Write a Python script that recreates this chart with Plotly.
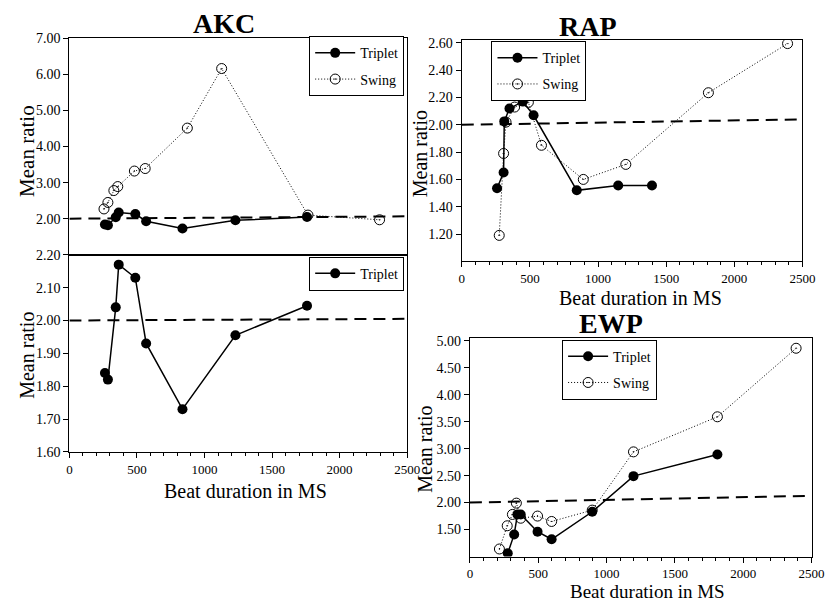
import plotly.graph_objects as go

# ---------------- data ----------------
# AKC
akc_trip_x = [263, 285, 343, 365, 488, 568, 837, 1229, 1759]
akc_trip_y = [1.84, 1.82, 2.04, 2.17, 2.13, 1.93, 1.73, 1.955, 2.045]
akc_swing_x = [256, 285, 329, 358, 481, 561, 873, 1127, 1766, 2296]
akc_swing_y = [2.27, 2.45, 2.78, 2.89, 3.32, 3.39, 4.51, 6.16, 2.10, 1.97]
# RAP
rap_trip_x = [259, 307, 312, 350, 448, 527, 844, 1148, 1396]
rap_trip_y = [1.535, 1.65, 2.025, 2.12, 2.17, 2.07, 1.52, 1.555, 1.555]
rap_swing_x = [275, 307, 325, 388, 489, 585, 892, 1204, 1810, 2391]
rap_swing_y = [1.19, 1.79, 2.02, 2.13, 2.165, 1.85, 1.60, 1.71, 2.235, 2.595]
# EWP
ewp_trip_x = [277, 324, 348, 372, 495, 598, 895, 1197, 1811]
ewp_trip_y = [1.06, 1.41, 1.78, 1.78, 1.46, 1.32, 1.83, 2.49, 2.89]
ewp_swing_x = [216, 273, 311, 340, 372, 495, 598, 895, 1197, 1811, 2387]
ewp_swing_y = [1.14, 1.57, 1.78, 1.99, 1.71, 1.75, 1.65, 1.86, 2.94, 3.59, 4.86]

# reference (ratio = 2) dashed line ends, as they appear in the scan
ref_x = [0, 2500]
akc_top_ref = [2.00, 2.065]
akc_bot_ref = [2.00, 2.005]
rap_ref = [2.00, 2.04]
ewp_ref = [2.00, 2.126]

x_ticks = [0, 500, 1000, 1500, 2000, 2500]
akc_top_yticks = [2, 3, 4, 5, 6, 7]
akc_bot_yticks = [1.6, 1.7, 1.8, 1.9, 2.0, 2.1, 2.2]
rap_yticks = [1.2, 1.4, 1.6, 1.8, 2.0, 2.2, 2.4, 2.6]
ewp_yticks = [1.5, 2.0, 2.5, 3.0, 3.5, 4.0, 4.5, 5.0]

FONT = "'Liberation Serif', 'Times New Roman', 'DejaVu Serif', serif"
W, H = 837, 614

fig = go.Figure()


def trip(x, y, xa, ya, legend, show=True):
    fig.add_trace(go.Scatter(
        x=x, y=y, xaxis=xa, yaxis=ya, mode="lines+markers", name="Triplet",
        line=dict(color="black", width=1.5),
        marker=dict(symbol="circle", size=10, color="black"),
        legend=legend, showlegend=show, legendgroup=legend + "t"))


def swing(x, y, xa, ya, legend):
    fig.add_trace(go.Scatter(
        x=x, y=y, xaxis=xa, yaxis=ya, mode="lines+markers", name="Swing",
        line=dict(color="black", width=1, dash="1px,2px"),
        marker=dict(symbol="circle-open-dot", size=10, color="black",
                    line=dict(width=1, color="black")),
        legend=legend, legendgroup=legend + "s"))


trip(akc_trip_x, akc_trip_y, "x", "y", "legend")
swing(akc_swing_x, akc_swing_y, "x", "y", "legend")
trip(akc_trip_x, akc_trip_y, "x2", "y2", "legend2")
trip(rap_trip_x, rap_trip_y, "x3", "y3", "legend3")
swing(rap_swing_x, rap_swing_y, "x3", "y3", "legend3")
trip(ewp_trip_x, ewp_trip_y, "x4", "y4", "legend4")
swing(ewp_swing_x, ewp_swing_y, "x4", "y4", "legend4")


def px_x(p):
    return p / W


def px_y(p):
    return 1 - p / H


axis_common = dict(showline=True, linecolor="black", linewidth=1.3, mirror=True,
                   showgrid=False, zeroline=False,
                   tickfont=dict(family=FONT, size=14, color="black"),
                   tickcolor="black")

xcommon = dict(axis_common, range=[0, 2500], tickvals=x_ticks, ticks="outside",
               ticklen=5, tickwidth=1,
               tickfont=dict(family=FONT, size=13, color="black"),
               minor=dict(dtick=100, ticks="outside", ticklen=3, tickcolor="black"))

ycommon = dict(axis_common, tickformat=".2f", ticks="outside", ticklen=5, tickwidth=1)

fig.update_layout(
    width=W, height=H, margin=dict(l=0, r=0, t=0, b=0),
    paper_bgcolor="white", plot_bgcolor="white",
    font=dict(family=FONT, color="black"),
    # AKC top
    xaxis=dict(axis_common, domain=[px_x(67.7), px_x(412)], range=[0, 2500],
               showticklabels=False, ticks="", anchor="y", linewidth=0.8),
    yaxis=dict(ycommon, domain=[px_y(254), px_y(32)], range=[1, 7],
               tickvals=akc_top_yticks, anchor="x"),
    # AKC bottom
    xaxis2=dict(xcommon, domain=[px_x(67.7), px_x(412)], anchor="y2"),
    yaxis2=dict(ycommon, domain=[px_y(456), px_y(254)], range=[1.6, 2.2],
                tickvals=akc_bot_yticks, anchor="x2"),
    # RAP
    xaxis3=dict(xcommon, domain=[px_x(467.7), px_x(815)], anchor="y3"),
    yaxis3=dict(ycommon, domain=[px_y(260.7), px_y(34)], range=[1.0, 2.62],
                tickvals=rap_yticks, anchor="x3"),
    # EWP
    xaxis4=dict(xcommon, domain=[px_x(476), px_x(824.3)], anchor="y4"),
    yaxis4=dict(ycommon, domain=[px_y(563.3), px_y(339.3)], range=[1.0, 5.05],
                tickvals=ewp_yticks, anchor="x4"),
)

leg_common = dict(bgcolor="white", bordercolor="black", borderwidth=1,
                  font=dict(family=FONT, size=14, color="black"),
                  tracegroupgap=5, itemwidth=40)
fig.update_layout(
    legend=dict(leg_common, x=px_x(409), y=px_y(30), xanchor="right", yanchor="top"),
    legend2=dict(leg_common, x=px_x(409), y=px_y(256), xanchor="right", yanchor="top"),
    legend3=dict(leg_common, x=px_x(498), y=px_y(35), xanchor="left", yanchor="top"),
    legend4=dict(leg_common, x=px_x(570), y=px_y(341), xanchor="left", yanchor="top"),
)

# dashed reference lines
for xr, yr, yy in [("x", "y", akc_top_ref), ("x2", "y2", akc_bot_ref),
                   ("x3", "y3", rap_ref), ("x4", "y4", ewp_ref)]:
    fig.add_shape(type="line", xref=xr, yref=yr, x0=ref_x[0], x1=ref_x[1],
                  y0=yy[0], y1=yy[1],
                  line=dict(color="black", width=2, dash="12px,7px"), layer="below")


# titles and axis labels
def ann(text, x, y, size, bold=False, angle=0):
    fig.add_annotation(text=f"<b>{text}</b>" if bold else text,
                       x=px_x(x), y=px_y(y), xref="paper", yref="paper",
                       showarrow=False, textangle=angle,
                       font=dict(family=FONT, size=size, color="black"),
                       xanchor="center", yanchor="middle")


ann("AKC", 225, 17, 28, bold=True)
ann("RAP", 596, 20, 28, bold=True)
ann("EWP", 620, 324, 28, bold=True)
ann("Beat duration in MS", 247, 496, 20)
ann("Beat duration in MS", 650, 298, 20)
ann("Beat duration in MS", 657, 599, 19)
ann("Mean ratio", 25, 148, 21, angle=-90)
ann("Mean ratio", 25, 357, 20, angle=-90)
ann("Mean ratio", 425, 150, 20, angle=-90)
ann("Mean ratio", 430, 453, 20, angle=-90)

fig.write_html("out.html")
